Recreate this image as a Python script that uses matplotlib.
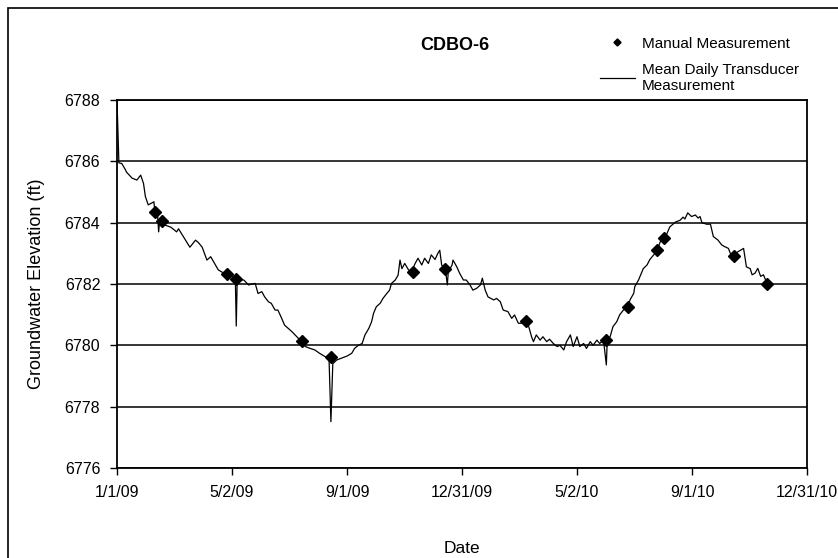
import numpy as np
import matplotlib
matplotlib.use("Agg")
import matplotlib.pyplot as plt
from matplotlib.patches import Rectangle

plt.rcParams['font.family'] = ['Liberation Sans', 'DejaVu Sans']

start = np.datetime64('2009-01-01')

# mean daily transducer record, days after 1/1/09 and elevation (ft)
td_days = [0, 2, 5, 9, 10, 16, 21, 25, 28, 30, 33, 39, 40, 43, 44, 45, 51, 57, 63, 65,
           70, 77, 83, 86, 90, 95, 99, 104, 107, 113, 117, 121, 125, 126, 127, 134, 139,
           146, 149, 153, 156, 160, 163, 167, 170, 174, 177, 181, 185, 190, 195, 199, 204,
           209, 214, 220, 224, 226, 228, 232, 237, 243, 248, 251, 255, 259, 262, 266, 269,
           271, 274, 278, 281, 285, 288, 290, 294, 297, 299, 301, 304, 308, 311, 315, 318,
           322, 325, 329, 332, 336, 339, 341, 343, 347, 349, 350, 354, 355, 359, 362, 366,
           369, 373, 376, 380, 384, 386, 389, 392, 398, 401, 405, 408, 413, 417, 420, 424,
           428, 431, 435, 438, 440, 443, 447, 450, 454, 457, 461, 465, 468, 472, 475, 479,
           482, 486, 489, 493, 496, 500, 503, 507, 510, 514, 517, 518, 521, 524, 528, 531,
           535, 540, 542, 546, 547, 551, 554, 556, 560, 563, 567, 570, 574, 577, 581, 584,
           590, 595, 598, 600, 603, 607, 611, 614, 616, 618, 623, 627, 630, 635, 639, 642,
           646, 648, 651, 656, 662, 665, 669, 671, 674, 677, 680, 683, 685, 687]
td_elev = [6788.0, 6785.95, 6785.93, 6785.72, 6785.65, 6785.45, 6785.39, 6785.55, 6785.28,
           6784.85, 6784.58, 6784.68, 6784.35, 6784.2, 6783.7, 6784.05, 6783.92, 6783.85,
           6783.7, 6783.8, 6783.55, 6783.2, 6783.43, 6783.35, 6783.2, 6782.78, 6782.89,
           6782.62, 6782.46, 6782.35, 6782.3, 6782.29, 6782.2, 6780.63, 6782.15, 6782.13,
           6781.97, 6782.02, 6781.69, 6781.75, 6781.58, 6781.42, 6781.37, 6781.15, 6781.15,
           6780.88, 6780.66, 6780.55, 6780.44, 6780.28, 6780.12, 6779.96, 6779.9, 6779.85,
           6779.74, 6779.63, 6779.58, 6777.51, 6779.4, 6779.52, 6779.58, 6779.65, 6779.74,
           6779.9, 6780.0, 6780.06, 6780.34, 6780.55, 6780.77, 6781.04, 6781.26, 6781.37,
           6781.53, 6781.69, 6781.8, 6782.02, 6782.13, 6782.29, 6782.78, 6782.5, 6782.67,
           6782.46, 6782.4, 6782.67, 6782.84, 6782.62, 6782.84, 6782.67, 6782.95, 6782.8,
           6783.0, 6783.1, 6782.62, 6782.46, 6781.97, 6782.4, 6782.62, 6782.78, 6782.56,
           6782.35, 6782.13, 6782.13, 6781.97, 6781.8, 6781.86, 6781.97, 6782.19, 6781.8,
           6781.58, 6781.48, 6781.53, 6781.42, 6781.15, 6781.1, 6780.88, 6780.99, 6780.72,
           6780.72, 6780.77, 6780.61, 6780.28, 6780.12, 6780.34, 6780.17, 6780.28, 6780.12,
           6780.2, 6780.06, 6779.96, 6780.0, 6779.85, 6780.12, 6780.34, 6779.96, 6780.28,
           6779.96, 6780.06, 6779.9, 6780.12, 6780.0, 6780.17, 6780.06, 6780.17, 6779.36,
           6780.2, 6780.28, 6780.61, 6780.77, 6780.99, 6781.15, 6781.26, 6781.48, 6781.7,
           6781.91, 6782.13, 6782.35, 6782.5, 6782.62, 6782.8, 6782.95, 6783.05, 6783.38,
           6783.48, 6783.64, 6783.86, 6784.02, 6784.08, 6784.18, 6784.12, 6784.32, 6784.2,
           6784.25, 6784.15, 6784.2, 6784.0, 6783.95, 6783.95, 6783.55, 6783.43, 6783.27,
           6783.22, 6783.16, 6783.0, 6782.95, 6783.05, 6783.16, 6782.56, 6782.5, 6782.3,
           6782.35, 6782.51, 6782.25, 6782.3, 6782.15, 6782.0]

# manual measurements
mm_days = [40, 48, 116, 126, 195, 226, 313, 347, 432, 517, 540, 570, 578, 652, 687]
mm_elev = [6784.36, 6784.05, 6782.33, 6782.16, 6780.15, 6779.61, 6782.4, 6782.48,
           6780.8, 6780.17, 6781.26, 6783.12, 6783.49, 6782.91, 6781.99]

tick_dates = ['2009-01-01', '2009-05-02', '2009-09-01', '2009-12-31',
              '2010-05-02', '2010-09-01', '2010-12-31']
tick_labels = ['1/1/09', '5/2/09', '9/1/09', '12/31/09', '5/2/10', '9/1/10', '12/31/10']
y_ticks = [6776, 6778, 6780, 6782, 6784, 6786, 6788]

td_x = (start + np.array(td_days, dtype='timedelta64[D]')).astype('datetime64[D]').astype(object)
mm_x = (start + np.array(mm_days, dtype='timedelta64[D]')).astype('datetime64[D]').astype(object)
tk_x = np.array(tick_dates, dtype='datetime64[D]').astype(object)

fig = plt.figure(figsize=(8.38, 5.58), dpi=100)
# outer chart frame, cut off at the right and bottom like the scan
fig.patches.append(Rectangle((8 / 838, -0.1), 1.2, 1.1 - 8 / 558, transform=fig.transFigure,
                             fill=False, edgecolor='black', linewidth=1.2))
ax = fig.add_axes([117 / 838, 1 - 468 / 558, 690 / 838, 368 / 558])

ax.plot(td_x, td_elev, color='black', linewidth=0.9,
        label='Mean Daily Transducer\nMeasurement', zorder=3)
ax.plot(mm_x, mm_elev, linestyle='none', marker='D', markersize=6, color='black',
        label='Manual Measurement', zorder=4)

ax.set_ylim(6776, 6788)
ax.set_yticks(y_ticks)
ax.set_yticklabels([str(v) for v in y_ticks])
ax.set_xlim(tk_x[0], tk_x[-1])
ax.set_xticks(tk_x)
ax.set_xticklabels(tick_labels)
ax.yaxis.grid(True, color='black', linewidth=1.1)
ax.set_axisbelow(True)
ax.tick_params(direction='out', length=5, width=1, pad=7, labelsize=11.5, colors='black')
for s in ax.spines.values():
    s.set_linewidth(1.3)

ax.set_ylabel('Groundwater Elevation (ft)', fontsize=13, labelpad=14)
ax.set_xlabel('Date', fontsize=12.5, labelpad=30)
fig.text(455 / 838, 1 - 45 / 558, 'CDBO-6', fontsize=13, fontweight='bold',
         ha='center', va='center')

# legend sitting above the plot on the right
h, l = ax.get_legend_handles_labels()
fig.legend([h[1], h[0]], [l[1], l[0]], loc='upper left',
           bbox_to_anchor=(592 / 838, 1 - 29 / 558), frameon=False, fontsize=11,
           handlelength=2.3, handletextpad=0.45, labelspacing=0.8, borderpad=0,
           markerscale=0.6)

fig.savefig('out.png', dpi=100)
